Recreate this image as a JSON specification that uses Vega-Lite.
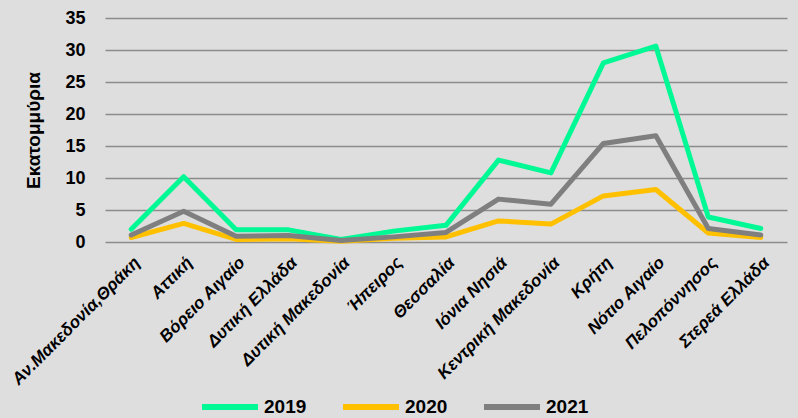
{
  "$schema": "https://vega.github.io/schema/vega-lite/v6.json",
  "width": 682,
  "height": 224,
  "autosize": "none",
  "padding": {"left": 105, "top": 18, "right": 11, "bottom": 176},
  "background": "#DEDEDE",
  "config": {"view": {"stroke": null}, "font": "Liberation Sans"},
  "data": {
    "values": [
      {"region": "Αν.Μακεδονία,Θράκη", "year": "2019", "value": 2.0},
      {"region": "Αττική", "year": "2019", "value": 10.2},
      {"region": "Βόρειο Αιγαίο", "year": "2019", "value": 1.9},
      {"region": "Δυτική Ελλάδα", "year": "2019", "value": 1.9},
      {"region": "Δυτική Μακεδονία", "year": "2019", "value": 0.4},
      {"region": "Ήπειρος", "year": "2019", "value": 1.7},
      {"region": "Θεσσαλία", "year": "2019", "value": 2.6},
      {"region": "Ιόνια Νησιά", "year": "2019", "value": 12.8},
      {"region": "Κεντρική Μακεδονία", "year": "2019", "value": 10.8},
      {"region": "Κρήτη", "year": "2019", "value": 28.0},
      {"region": "Νότιο Αιγαίο", "year": "2019", "value": 30.6},
      {"region": "Πελοπόννησος", "year": "2019", "value": 3.9},
      {"region": "Στερεά Ελλάδα", "year": "2019", "value": 2.1},
      {"region": "Αν.Μακεδονία,Θράκη", "year": "2020", "value": 0.7},
      {"region": "Αττική", "year": "2020", "value": 2.9},
      {"region": "Βόρειο Αιγαίο", "year": "2020", "value": 0.4},
      {"region": "Δυτική Ελλάδα", "year": "2020", "value": 0.5},
      {"region": "Δυτική Μακεδονία", "year": "2020", "value": 0.1},
      {"region": "Ήπειρος", "year": "2020", "value": 0.6},
      {"region": "Θεσσαλία", "year": "2020", "value": 0.8},
      {"region": "Ιόνια Νησιά", "year": "2020", "value": 3.3},
      {"region": "Κεντρική Μακεδονία", "year": "2020", "value": 2.8},
      {"region": "Κρήτη", "year": "2020", "value": 7.2},
      {"region": "Νότιο Αιγαίο", "year": "2020", "value": 8.2},
      {"region": "Πελοπόννησος", "year": "2020", "value": 1.4},
      {"region": "Στερεά Ελλάδα", "year": "2020", "value": 0.7},
      {"region": "Αν.Μακεδονία,Θράκη", "year": "2021", "value": 1.1},
      {"region": "Αττική", "year": "2021", "value": 4.8},
      {"region": "Βόρειο Αιγαίο", "year": "2021", "value": 0.9},
      {"region": "Δυτική Ελλάδα", "year": "2021", "value": 1.0},
      {"region": "Δυτική Μακεδονία", "year": "2021", "value": 0.25},
      {"region": "Ήπειρος", "year": "2021", "value": 0.8},
      {"region": "Θεσσαλία", "year": "2021", "value": 1.5},
      {"region": "Ιόνια Νησιά", "year": "2021", "value": 6.7},
      {"region": "Κεντρική Μακεδονία", "year": "2021", "value": 5.9},
      {"region": "Κρήτη", "year": "2021", "value": 15.4},
      {"region": "Νότιο Αιγαίο", "year": "2021", "value": 16.6},
      {"region": "Πελοπόννησος", "year": "2021", "value": 2.1},
      {"region": "Στερεά Ελλάδα", "year": "2021", "value": 1.1}
    ]
  },
  "mark": {"type": "line", "strokeWidth": 5, "strokeJoin": "round", "strokeCap": "round"},
  "encoding": {
    "x": {
      "field": "region",
      "type": "nominal",
      "sort": null,
      "axis": {
        "title": null,
        "labelAngle": -45,
        "labelFontSize": 17,
        "labelFontWeight": "bold",
        "labelFontStyle": "italic",
        "labelColor": "#000000",
        "labelPadding": 12,
        "ticks": false,
        "domain": false,
        "grid": false
      }
    },
    "y": {
      "field": "value",
      "type": "quantitative",
      "scale": {"domain": [0, 35], "nice": false},
      "axis": {
        "title": "Εκατομμύρια",
        "titleFontSize": 19,
        "titleFontWeight": "bold",
        "titleColor": "#000000",
        "titlePadding": 21,
        "values": [0, 5, 10, 15, 20, 25, 30, 35],
        "labelFontSize": 18,
        "labelFontWeight": "bold",
        "labelColor": "#000000",
        "labelPadding": 20,
        "ticks": false,
        "domain": false,
        "grid": true,
        "gridColor": "#8C8C8C",
        "gridWidth": 1.5
      }
    },
    "color": {
      "field": "year",
      "type": "nominal",
      "scale": {"domain": ["2019", "2020", "2021"], "range": ["#00F994", "#FFC000", "#7F7F7F"]},
      "legend": {
        "title": null,
        "orient": "none",
        "direction": "horizontal",
        "legendX": 94,
        "legendY": 358,
        "padding": 0,
        "symbolType": "stroke",
        "symbolSize": 3136,
        "symbolStrokeWidth": 6,
        "labelFontSize": 19,
        "labelFontWeight": "bold",
        "labelColor": "#000000",
        "labelOffset": 3,
        "columnPadding": 24
      }
    }
  }
}
